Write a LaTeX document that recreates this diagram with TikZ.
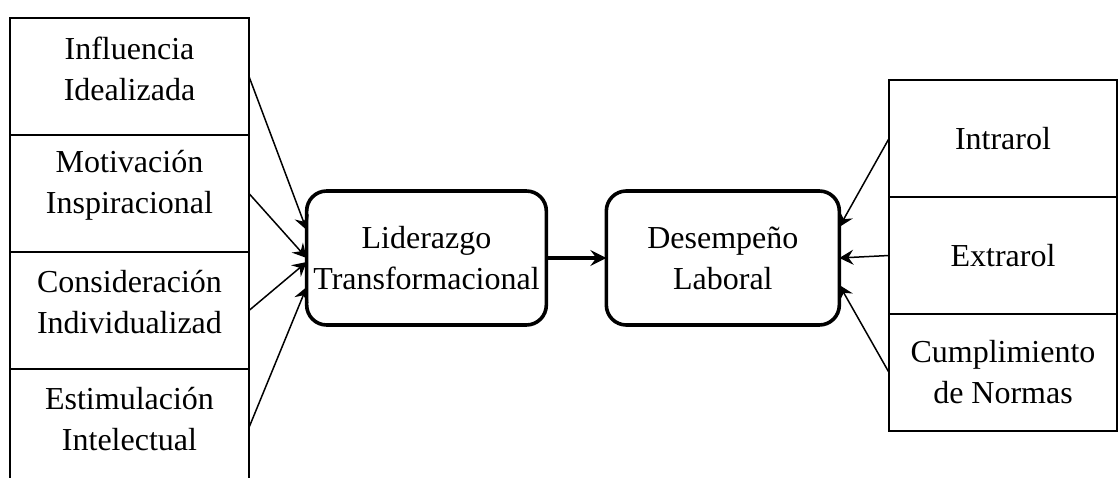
\documentclass[tikz,border=0pt]{standalone}
\usepackage{fontspec}
\setmainfont{Liberation Serif}
\usetikzlibrary{arrows.meta,positioning}

\tikzset{
    txt/.style={align=center, font=\fontsize{16}{20.5}\selectfont},
    dim/.style={rectangle, draw, line width=0.75pt, outer sep=0pt, txt,
        minimum width=119.5pt, minimum height=58.5pt},
    leftdim/.style={dim, label={[txt, yshift=4pt]center:{#1}}},
    var/.style={rectangle, draw, line width=1.8pt, rounded corners=10pt, outer sep=0pt,
        txt, minimum width=116.5pt, minimum height=67pt},
    arr/.style={-{Stealth[length=7pt, width=7.5pt, inset=2.5pt]}, line width=0.75pt}
}

\begin{document}
\begin{tikzpicture}[x=1pt, y=1pt]
    \path[use as bounding box, clip] (0,0) rectangle (559,238.5);

    % Dimensions of leadership
    \node[leftdim={Influencia\\Idealizada}] (ii) at (64.75,200.25) {};
    \node[leftdim={Motivación\\Inspiracional}, below=0pt of ii] (mi) {};
    \node[leftdim={Consideración\\Individualizad}, below=0pt of mi] (ci) {};
    \node[leftdim={Estimulación\\Intelectual}, below=0pt of ci] (ei) {};

    % Variables
    \node[var] (lt) at (213.25,109.5) {Liderazgo\\Transformacional};
    \node[var, right=30pt of lt] (dl) {Desempeño\\Laboral};

    % Dimensions of performance
    \node[dim, minimum width=114pt] (intra) at (501.5,169.25) {Intrarol};
    \node[dim, minimum width=114pt, below=0pt of intra] (extra) {Extrarol};
    \node[dim, minimum width=114pt, below=0pt of extra] (cn) {Cumplimiento\\de Normas};

    % Arrows into the variables
    \draw[arr] (ii.east) -- ([yshift=14pt]lt.west);
    \draw[arr] (mi.east) -- (lt.west);
    \draw[arr] (ci.east) -- ([yshift=-2pt]lt.west);
    \draw[arr] (ei.east) -- ([yshift=-14.5pt]lt.west);

    \draw[-{Stealth[length=8pt, width=8pt, inset=3pt]}, line width=1.5pt] (lt) -- (dl);

    \draw[arr] (intra.west) -- ([yshift=15.5pt]dl.east);
    \draw[arr] (extra.west) -- (dl.east);
    \draw[arr] (cn.west) -- ([yshift=-13.5pt]dl.east);
\end{tikzpicture}
\end{document}
